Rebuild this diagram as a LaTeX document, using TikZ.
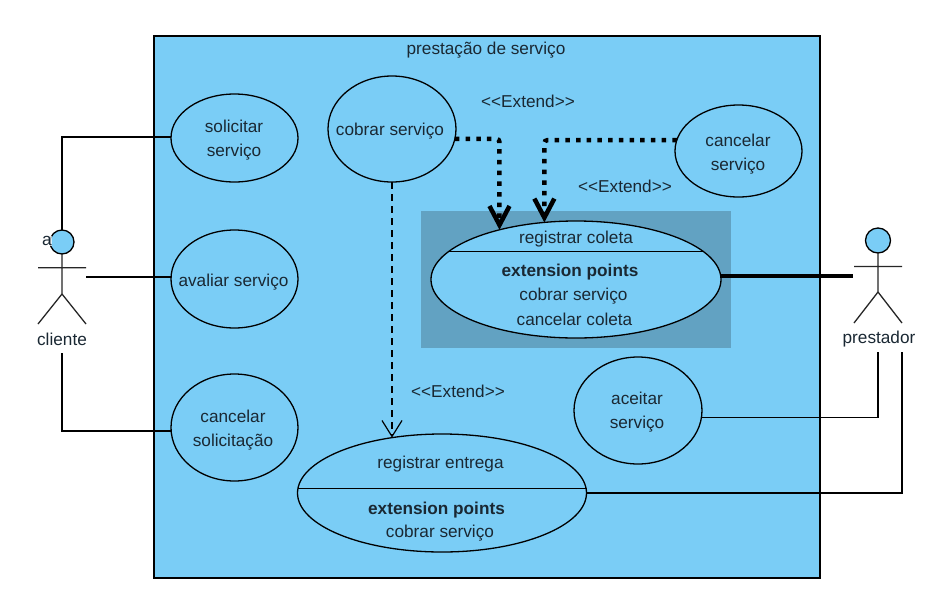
\documentclass[tikz,border=0pt]{standalone}
\usepackage{fontspec}
\setmainfont{Liberation Sans}
\usetikzlibrary{shapes.geometric,arrows.meta}
\definecolor{ucblue}{HTML}{7ACDF6}
\definecolor{ucshade}{HTML}{62A2C2}
\definecolor{uctext}{HTML}{1A2833}
\newcommand{\uctextfont}{\fontsize{17.2}{24}\selectfont}
\tikzset{
  x=1pt,y=-1pt,
  uc/.style={draw=black,fill=ucblue,ellipse,line width=1.3pt,inner sep=0pt,outer sep=0pt},
  lab/.style={inner sep=0pt,text=uctext,align=center,font=\uctextfont,yshift=-1pt},
  assoc/.style={draw=black,line width=1.2pt},
  actorline/.style={draw=black!85,line width=1.3pt},
  head/.style={circle,draw=black,fill=ucblue,line width=1.3pt,inner sep=0pt,outer sep=0pt},
  dotarrow/.style={draw=black,line width=4.5pt,dash pattern=on 4.5pt off 6.2pt,rounded corners=3pt,-{Straight Barb[length=19pt,width=20pt,line width=4.5pt]}},
  dasharrow/.style={draw=black,line width=1.1pt,dash pattern=on 7pt off 5pt,-{Straight Barb[length=16pt,width=20pt,line width=1.2pt]}}
}
\begin{document}
\begin{tikzpicture}
\useasboundingbox (0,0) rectangle (930,614);
\fill[white] (0,0) rectangle (930,614);
\node[draw=black,fill=ucblue,line width=1.3pt,inner sep=0pt,minimum width=666pt,minimum height=542pt] (sys) at (487,307) {};
\node[lab] (title) at (486,49) {prestação de serviço};
\node[fill=ucshade,inner sep=0pt,minimum width=310pt,minimum height=137pt] (shade) at (576,279.5) {};
% use cases
\node[uc,minimum width=127pt,minimum height=88pt] (sol) at (234.5,138) {};
\node[uc,minimum width=127pt,minimum height=98pt] (ava) at (234.5,279) {};
\node[uc,minimum width=127pt,minimum height=107pt] (cas) at (234.5,427.5) {};
\node[uc,minimum width=128pt,minimum height=106pt] (cob) at (392,129) {};
\node[uc,minimum width=127pt,minimum height=92pt] (can) at (738.5,151) {};
\node[uc,minimum width=128pt,minimum height=107pt] (ace) at (638,410.5) {};
\node[uc,minimum width=290pt,minimum height=117pt] (col) at (576,279.5) {};
\node[uc,minimum width=289pt,minimum height=118pt] (ent) at (442,493) {};
\node[lab] (solt) at (234,139) {solicitar\\serviço};
\node[lab] (avat) at (233.5,281) {avaliar serviço};
\node[lab] (cast) at (233,429) {cancelar\\solicitação};
\node[lab] (cobt) at (390,130) {cobrar serviço};
\node[lab] (cant) at (738,153) {cancelar\\serviço};
\node[lab] (acet) at (637,411) {aceitar\\serviço};
\coordinate (colL) at (448,251.7);
\coordinate (colR) at (703.5,251.7);
\coordinate (entL) at (298,488.3);
\coordinate (entR) at (586.5,488.3);
\draw[assoc] (colL) -- (colR);
\draw[assoc] (entL) -- (entR);
\node[lab] (colt) at (576,238) {registrar coleta};
\node[lab] (colx) at (570,271) {\textbf{extension points}};
\node[lab] (coly) at (573.5,295) {cobrar serviço};
\node[lab] (colz) at (574.5,318) {cancelar coleta};
\node[lab] (entt) at (440.5,463) {registrar entrega};
\node[lab] (entx) at (436.5,509) {\textbf{extension points}};
\node[lab] (enty) at (440,532) {cobrar serviço};
% actor cliente
\node[head,minimum size=24pt] (cliH) at (62,242) {};
\coordinate (cliC) at (62,294);
\coordinate (cliAL) at (38,267.7);
\coordinate (cliAR) at (86,267.7);
\coordinate (cliFL) at (38,324);
\coordinate (cliFR) at (86,324);
\coordinate (cliS) at (86,277);
\coordinate (cliB) at (62,353);
\draw[actorline] (cliH) -- (cliC) (cliAL) -- (cliAR) (cliFL) -- (cliC) -- (cliFR);
\node[lab] (cliL) at (62,338) {cliente};
\node[lab,fill=white,fill opacity=0.7,text opacity=1,inner sep=0.5pt] (cliA) at (47,240) {a};
% actor prestador
\node[head,minimum size=25pt] (preH) at (878,240.5) {};
\coordinate (preC) at (878,292);
\coordinate (preAL) at (854,266.5);
\coordinate (preAR) at (902,266.5);
\coordinate (preFL) at (854,323);
\coordinate (preFR) at (902,323);
\coordinate (preS) at (853,276);
\coordinate (preB) at (878,352);
\coordinate (preD) at (902,352);
\draw[actorline] (preH) -- (preC) (preAL) -- (preAR) (preFL) -- (preC) -- (preFR);
\node[lab] (preL) at (879,338) {prestador};
% associations
\draw[assoc] (cliH) |- ([yshift=1pt]sol.west);
\draw[assoc] (cliS) -- (cliS -| ava.west);
\draw[assoc] (cliB) |- ([yshift=-3.5pt]cas.west);
\draw[assoc,line width=4pt] (preS -| col.east) -- (preS);
\draw[assoc] (preB) |- (ace.-6.7);
\draw[assoc] (preD) |- (ent.east);
% extend
\draw[dotarrow] (cob.-9.5) -| (col.147.2);
\draw[dotarrow] (can.170) -| (col.119.3);
\draw[dasharrow] (cob.south) -- (cob.south |- ent.132);
\node[lab] (ex1) at (528,100) {<{}<Extend>{}>};
\node[lab] (ex2) at (625,185) {<{}<Extend>{}>};
\node[lab] (ex3) at (458,390) {<{}<Extend>{}>};
\end{tikzpicture}
\end{document}
